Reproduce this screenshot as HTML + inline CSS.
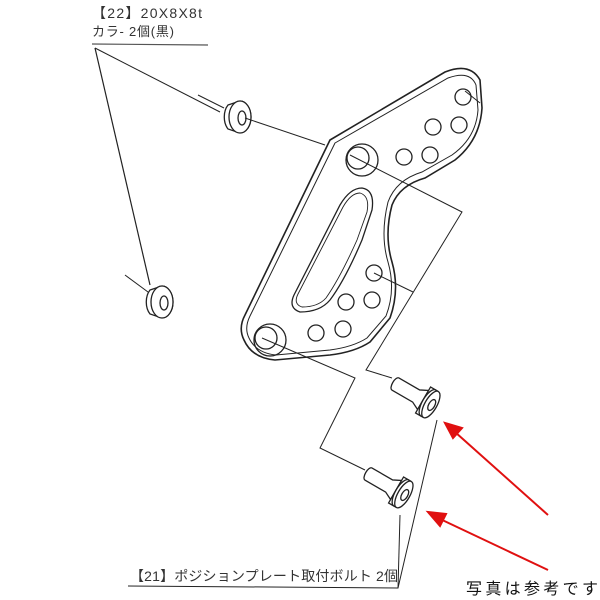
<!DOCTYPE html>
<html><head><meta charset="utf-8"><style>
body{margin:0;background:#fff}
svg{display:block}
text{font-family:"Liberation Sans","Noto Sans CJK JP",sans-serif}
</style></head><body>
<svg width="600" height="600" viewBox="0 0 600 600" fill="none" stroke="#222" stroke-width="1.2">
<rect width="600" height="600" fill="#fff" stroke="none"/>
<!-- top label -->
<text x="92" y="18" font-size="14" fill="#333" stroke="none" textLength="110">【22】20X8X8t</text>
<text x="92" y="36" font-size="13" fill="#333" stroke="none" textLength="82">カラ- 2個(黒)</text>
<line x1="92" y1="44" x2="208" y2="45" stroke="#555"/>
<line x1="95" y1="48" x2="150" y2="285"/>
<line x1="95" y1="48" x2="220" y2="112" stroke-width="1"/>
<line x1="198" y1="95" x2="224" y2="108" stroke-width="1"/>
<!-- washers -->
<g stroke-width="1.3" fill="#fff">
<g transform="translate(240,117)">
<path d="M-12 -12 L0 -16 A11 16 0 0 1 0 16 L-12 12 A11 16 0 0 1 -12 -12 Z"/>
<ellipse cx="0" cy="0" rx="11" ry="16"/>
<ellipse cx="2" cy="1" rx="4" ry="7"/>
</g>
<g transform="translate(162,302)">
<path d="M-12 -12 L0 -16 A11 16 0 0 1 0 16 L-12 12 A11 16 0 0 1 -12 -12 Z"/>
<ellipse cx="0" cy="0" rx="11" ry="16"/>
<ellipse cx="2" cy="1" rx="4" ry="7"/>
</g>
</g>
<line x1="245" y1="118" x2="325" y2="145" stroke-width="1"/>
<line x1="125" y1="275" x2="148" y2="292" stroke-width="1"/>
<!-- plate -->
<path d="M330 140 L445 72 Q470 62 480 80 L482 108 Q480 140 455 160 L425 178 Q400 185 392 205 Q384 235 392 262 Q400 290 390 318 L370 342 Q355 352 330 355 L275 360 Q252 358 244 340 Q238 328 245 315 Z" stroke-width="1.6"/>
<path d="M335 143 L448 78 Q470 70 476 85 L478 110 Q476 138 452 155 L422 172 Q396 180 388 202 Q380 235 388 262 Q396 290 386 316 L367 338 Q353 347 330 350 L276 355 Q256 353 249 338 Q244 328 250 316 Z" stroke-width="1"/>
<path d="M362 188 Q375 190 372 210 L362 240 Q345 280 330 300 Q320 312 300 312 Q288 308 294 295 L340 205 Q350 188 362 188 Z" stroke-width="1.3"/>
<path d="M360 193 Q370 196 367 212 L357 240 Q340 278 326 298 Q318 307 302 307 Q293 304 298 294 L343 207 Q351 193 360 193 Z" stroke-width="0.9"/>
<g stroke-width="1.3">
<circle cx="362" cy="160" r="16"/><circle cx="358" cy="158" r="11"/>
<circle cx="270" cy="340" r="16"/><circle cx="266" cy="338" r="11"/>
<circle cx="463" cy="97" r="8"/><circle cx="459" cy="125" r="8"/><circle cx="433" cy="127" r="8"/><circle cx="430" cy="155" r="8"/><circle cx="404" cy="157" r="8"/>
<circle cx="374" cy="273" r="8"/><circle cx="372" cy="300" r="8"/><circle cx="346" cy="302" r="8"/><circle cx="343" cy="329" r="8"/><circle cx="316" cy="333" r="8"/>
</g>
<!-- connectors -->
<g stroke-width="1">
<polyline points="350,155 462,212 366,370 392,378"/>
<polyline points="374,273 413,292"/>
<polyline points="262,338 355,378 320,448 365,470"/>
<line x1="465" y1="91" x2="480" y2="103"/>
</g>
<!-- bolts -->
<g stroke-width="1.3" fill="#fff">
<g transform="translate(430,404) rotate(30)">
<path d="M-40 -7 L-16 -7 L-8 -11 L-8 11 L-16 7 L-40 7 A3 7 0 0 1 -40 -7 Z"/>
<path d="M-8 -15 L0 -15 L0 15 L-8 15 Z"/>
<ellipse cx="-2" cy="0" rx="6" ry="15"/>
<ellipse cx="1" cy="0" rx="6" ry="15"/>
<ellipse cx="2" cy="0" rx="3" ry="6"/>
</g>
<g transform="translate(403,494) rotate(30)">
<path d="M-40 -7 L-16 -7 L-8 -11 L-8 11 L-16 7 L-40 7 A3 7 0 0 1 -40 -7 Z"/>
<path d="M-8 -15 L0 -15 L0 15 L-8 15 Z"/>
<ellipse cx="-2" cy="0" rx="6" ry="15"/>
<ellipse cx="1" cy="0" rx="6" ry="15"/>
<ellipse cx="2" cy="0" rx="3" ry="6"/>
</g>
</g>
<!-- bottom label -->
<text x="130" y="581" font-size="14" fill="#333" stroke="none" textLength="268">【21】ポジションプレート取付ボルト 2個</text>
<polyline points="128,586 398,588 437,420" stroke-width="1"/>
<line x1="398" y1="588" x2="400" y2="515" stroke-width="1"/>
<!-- red arrows -->
<g stroke="#e01010" stroke-width="2" fill="#e01010">
<line x1="548" y1="515" x2="455" y2="432"/>
<path d="M445 423 L462 428 L453 438 Z"/>
<line x1="548" y1="570" x2="438" y2="518"/>
<path d="M428 512 L446 514 L440 526 Z"/>
</g>
<text x="466" y="594" font-size="16" fill="#111" stroke="none" textLength="132">写真は参考です</text>
</svg>
</body></html>
